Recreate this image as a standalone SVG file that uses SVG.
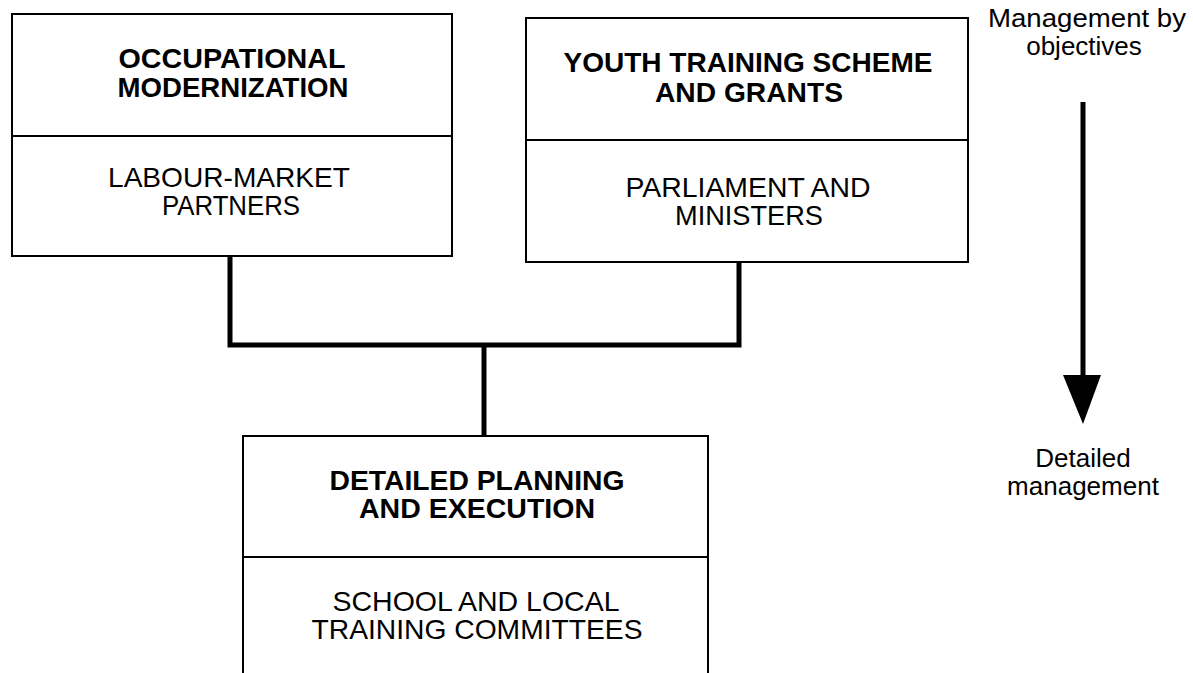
<svg xmlns="http://www.w3.org/2000/svg" width="1193" height="673" viewBox="0 0 1193 673">
<style>
.box{fill:#fff;stroke:#000;stroke-width:2}
.div{stroke:#000;stroke-width:2}
.b{font-family:"Liberation Sans",Arial,sans-serif;font-weight:bold;font-size:28px;text-anchor:middle;fill:#000}
.r{font-family:"Liberation Sans",Arial,sans-serif;font-size:28px;text-anchor:middle;fill:#000}
.l{font-family:"Liberation Sans",Arial,sans-serif;font-size:26px;text-anchor:middle;fill:#000}
.con{fill:none;stroke:#000;stroke-width:5;stroke-linejoin:miter}
</style>
<rect width="1193" height="673" fill="#fff"/>
<g id="connectors">
<polyline class="con" points="230,256 230,345 739,345 739,262"/>
<line class="con" x1="484" y1="345" x2="484" y2="437"/>
</g>
<g id="node-occupational">
<rect class="box" x="12" y="14" width="440" height="242"/>
<line class="div" x1="12" y1="136" x2="452" y2="136"/>
<text class="b" x="232" y="68" textLength="227" lengthAdjust="spacingAndGlyphs">OCCUPATIONAL</text>
<text class="b" x="233" y="97" textLength="231" lengthAdjust="spacingAndGlyphs">MODERNIZATION</text>
<text class="r" x="229" y="187" textLength="242" lengthAdjust="spacingAndGlyphs">LABOUR-MARKET</text>
<text class="r" x="231" y="215" textLength="138" lengthAdjust="spacingAndGlyphs">PARTNERS</text>
</g>
<g id="node-youth">
<rect class="box" x="526" y="18" width="442" height="244"/>
<line class="div" x1="526" y1="140" x2="968" y2="140"/>
<text class="b" x="748" y="72" textLength="369" lengthAdjust="spacingAndGlyphs">YOUTH TRAINING SCHEME</text>
<text class="b" x="749" y="102" textLength="188" lengthAdjust="spacingAndGlyphs">AND GRANTS</text>
<text class="r" x="748" y="197" textLength="245" lengthAdjust="spacingAndGlyphs">PARLIAMENT AND</text>
<text class="r" x="749" y="225" textLength="148" lengthAdjust="spacingAndGlyphs">MINISTERS</text>
</g>
<g id="node-detailed">
<path class="box" d="M243,680 L243,436 L708,436 L708,680"/>
<line class="div" x1="243" y1="557" x2="708" y2="557"/>
<text class="b" x="477" y="490" textLength="295" lengthAdjust="spacingAndGlyphs">DETAILED PLANNING</text>
<text class="b" x="477" y="518" textLength="236" lengthAdjust="spacingAndGlyphs">AND EXECUTION</text>
<text class="r" x="476" y="611" textLength="287" lengthAdjust="spacingAndGlyphs">SCHOOL AND LOCAL</text>
<text class="r" x="477" y="639" textLength="331" lengthAdjust="spacingAndGlyphs">TRAINING COMMITTEES</text>
</g>
<g id="scale-arrow">
<text class="l" x="1087" y="27" textLength="198" lengthAdjust="spacingAndGlyphs">Management by</text>
<text class="l" x="1084" y="55">objectives</text>
<line x1="1083" y1="102" x2="1083" y2="380" stroke="#000" stroke-width="5"/>
<polygon points="1063,375 1101,375 1083,424" fill="#000"/>
<text class="l" x="1083" y="467">Detailed</text>
<text class="l" x="1083" y="495">management</text>
</g>
</svg>
